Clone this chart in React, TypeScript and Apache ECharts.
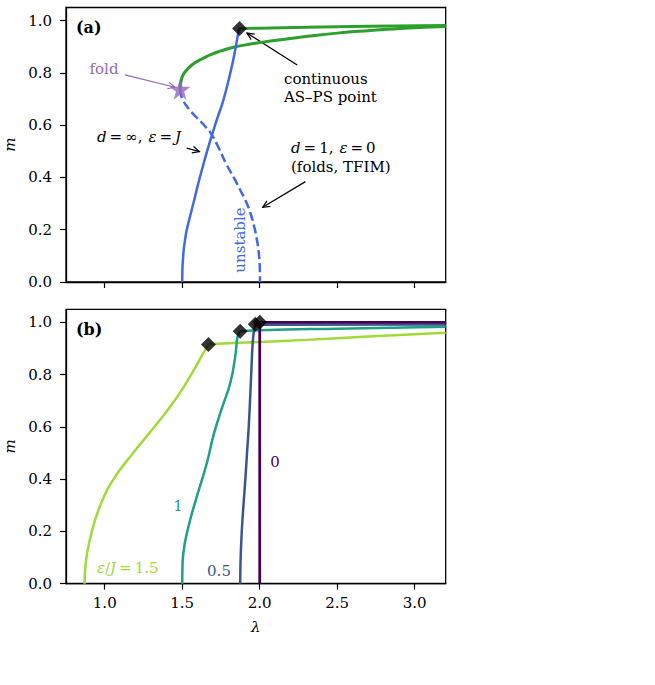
import { useEffect, useRef } from "react";
import * as echarts from "echarts";

const SERIF = "'DejaVu Serif', serif";

// Axis ticks shared by both panels
const LAMBDA_TICKS = [1.0, 1.5, 2.0, 2.5, 3.0];
const M_TICKS = [0.0, 0.2, 0.4, 0.6, 0.8, 1.0];
const LAMBDA_MIN = 0.75;
const LAMBDA_MAX = 3.2;
const M_MIN = 0;
const M_MAX = 1.05;

// ---- Panel (a): d = ∞, ε = J  versus  d = 1, ε = 0 ----
// stable branch rising from the fold
const stableFromFold: number[][] = [
  [1.486, 0.737], [1.488, 0.752], [1.492, 0.767], [1.497, 0.78], [1.51, 0.797],
  [1.529, 0.811], [1.56, 0.829], [1.594, 0.843], [1.64, 0.857], [1.68, 0.869],
  [1.75, 0.884], [1.831, 0.898], [1.95, 0.911], [2.069, 0.922], [2.284, 0.938],
  [2.5, 0.952], [2.716, 0.962], [2.932, 0.971], [3.2, 0.977],
];
// ordered branch leaving the continuous AS–PS point
const stableFromASPS: number[][] = [
  [1.87, 0.97], [2.0, 0.971], [2.3, 0.974], [2.7, 0.978], [3.2, 0.981],
];
// continuous curve (solid blue)
const continuousCurve: number[][] = [
  [1.5, 0.0], [1.5005, 0.03], [1.502, 0.06], [1.505, 0.09], [1.51, 0.125],
  [1.518, 0.16], [1.529, 0.199], [1.55, 0.25], [1.572, 0.301], [1.615, 0.403],
  [1.669, 0.518], [1.723, 0.62], [1.766, 0.697], [1.81, 0.799], [1.842, 0.888],
  [1.863, 0.958], [1.87, 0.97],
];
// unstable branch (dashed blue) from the fold down to λ = 2
const unstableBranch: number[][] = [
  [1.486, 0.737], [1.492, 0.715], [1.505, 0.695], [1.53, 0.672], [1.56, 0.65],
  [1.6, 0.625], [1.65, 0.594], [1.691, 0.563], [1.74, 0.507], [1.788, 0.447],
  [1.835, 0.397], [1.874, 0.352], [1.91, 0.31], [1.94, 0.263], [1.965, 0.21],
  [1.982, 0.161], [1.994, 0.11], [2.0, 0.06], [2.002, 0.0],
];
const foldPoint: number[][] = [[1.486, 0.737]];
const asPsPointA: number[][] = [[1.87, 0.97]];

// ---- Panel (b): family of curves for ε/J ----
const eps15Rise: number[][] = [
  [0.87, 0.0], [0.873, 0.05], [0.886, 0.116], [0.914, 0.193], [0.968, 0.295],
  [1.054, 0.397], [1.183, 0.5], [1.313, 0.595], [1.442, 0.693], [1.551, 0.793],
  [1.637, 0.883], [1.669, 0.915],
];
const eps15Flat: number[][] = [
  [1.669, 0.915], [1.8, 0.92], [2.0, 0.925], [2.3, 0.933], [2.7, 0.946], [3.2, 0.96],
];
const eps10Rise: number[][] = [
  [1.5, 0.0], [1.501, 0.05], [1.507, 0.116], [1.54, 0.218], [1.594, 0.333],
  [1.658, 0.46], [1.705, 0.575], [1.755, 0.67], [1.81, 0.768], [1.842, 0.87],
  [1.857, 0.945], [1.874, 0.966],
];
const eps10Flat: number[][] = [
  [1.874, 0.966], [2.0, 0.97], [2.5, 0.976], [3.2, 0.983],
];
const eps05Rise: number[][] = [
  [1.874, 0.0], [1.875, 0.05], [1.877, 0.1], [1.881, 0.16], [1.886, 0.22],
  [1.895, 0.3], [1.907, 0.397], [1.918, 0.5], [1.928, 0.589], [1.939, 0.72],
  [1.947, 0.83], [1.954, 0.915], [1.962, 0.965], [1.971, 0.993],
];
const eps05Flat: number[][] = [[1.971, 0.991], [3.2, 0.992]];
const eps00: number[][] = [[2.0, 0.0], [2.0, 1.0], [3.2, 1.0]];
const asPsPointsB: number[][] = [
  [1.669, 0.915], [1.874, 0.966], [1.971, 0.993], [2.0, 1.0],
];

// Annotation arrows in panel (a), [from, to] in (λ, m)
const foldArrow: number[][] = [[1.13, 0.792], [1.453, 0.745]];
const asPsArrow: number[][] = [[2.242, 0.83], [1.918, 0.952]];
const dInfArrow: number[][] = [[1.529, 0.512], [1.611, 0.499]];
const dOneArrow: number[][] = [[2.295, 0.384], [2.019, 0.286]];

const C_GREEN = "#2ca02c";
const C_BLUE = "#4169e1";
const C_PURPLE = "#9467bd";
const C_EPS15 = "#a0da39";
const C_EPS10 = "#21a085";
const C_EPS05 = "#39568c";
const C_EPS00 = "#440154";

const STAR =
  "path://M50,0 L61.8,35.4 L99,35.4 L69,57.3 L80.3,92.7 L50,70.8 L19.7,92.7 L31,57.3 L1,35.4 L38.2,35.4 Z";

function curve(
  data: number[][],
  color: string,
  grid: number,
  width = 2.5,
  smooth: number | boolean = 0.5,
  dashed = false
) {
  return {
    type: "line",
    xAxisIndex: grid,
    yAxisIndex: grid,
    data,
    showSymbol: false,
    smooth,
    silent: true,
    lineStyle: { color, width, type: dashed ? [9, 4] : "solid", cap: "butt" },
    z: 2,
  };
}

function makeXAxis(gridIndex: number, labels: boolean) {
  return {
    type: "value",
    gridIndex,
    min: LAMBDA_MIN,
    max: LAMBDA_MAX,
    splitLine: { show: false },
    axisLine: { show: true, onZero: false, lineStyle: { color: "#000", width: 1.3 } },
    axisTick: {
      show: true,
      length: 6,
      lineStyle: { color: "#000", width: 1.2 },
      customValues: LAMBDA_TICKS,
    },
    axisLabel: {
      show: labels,
      customValues: LAMBDA_TICKS,
      formatter: (v: number) => v.toFixed(1),
      fontFamily: SERIF,
      fontSize: 15,
      color: "#000",
      margin: 12,
    },
    name: labels ? "λ" : "",
    nameLocation: "middle",
    nameGap: 36,
    nameTextStyle: { fontFamily: SERIF, fontStyle: "italic", fontSize: 15, color: "#000" },
  };
}

function makeYAxis(gridIndex: number) {
  return {
    type: "value",
    gridIndex,
    min: M_MIN,
    max: M_MAX,
    splitLine: { show: false },
    axisLine: { show: true, onZero: false, lineStyle: { color: "#000", width: 1.3 } },
    axisTick: {
      show: true,
      length: 6,
      lineStyle: { color: "#000", width: 1.2 },
      customValues: M_TICKS,
    },
    axisLabel: {
      customValues: M_TICKS,
      formatter: (v: number) => v.toFixed(1),
      fontFamily: SERIF,
      fontSize: 15,
      color: "#000",
      margin: 14,
    },
    name: "m",
    nameLocation: "middle",
    nameGap: 47,
    nameTextStyle: { fontFamily: SERIF, fontStyle: "italic", fontSize: 15, color: "#000" },
  };
}

function label(x: number, y: number, text: string, fill = "#000", extra: any = {}, rotation = 0) {
  return {
    type: "text",
    x,
    y,
    rotation,
    silent: true,
    z: 10,
    style: {
      text,
      fill,
      fontFamily: SERIF,
      fontSize: 15,
      align: "left",
      verticalAlign: "middle",
      ...extra,
    },
  };
}

const mathRich = {
  i: { fontFamily: SERIF, fontStyle: "italic", fontSize: 15 },
};

// straight arrow with an open "->" head, endpoints given in pixels
function arrowGraphic(p0: number[], p1: number[], color: string) {
  const dx = p1[0] - p0[0];
  const dy = p1[1] - p0[1];
  const len = Math.hypot(dx, dy) || 1;
  const ux = dx / len;
  const uy = dy / len;
  const head = 7;
  const half = 3.3;
  const bx = p1[0] - ux * head;
  const by = p1[1] - uy * head;
  return {
    type: "group",
    silent: true,
    z: 9,
    children: [
      {
        type: "line",
        shape: { x1: p0[0], y1: p0[1], x2: p1[0], y2: p1[1] },
        style: { stroke: color, lineWidth: 1.2 },
      },
      {
        type: "polyline",
        shape: {
          points: [
            [bx - uy * half, by + ux * half],
            [p1[0], p1[1]],
            [bx + uy * half, by - ux * half],
          ],
        },
        style: { stroke: color, lineWidth: 1.2, fill: null },
      },
    ],
  };
}

export default function App() {
  const ref = useRef<HTMLDivElement>(null);

  useEffect(() => {
    if (!ref.current) return;
    const chart = echarts.init(ref.current, undefined, { renderer: "svg" });

    const gridBase = {
      left: 66,
      width: 379.7,
      show: true,
      borderColor: "#000",
      borderWidth: 1.3,
      backgroundColor: "transparent",
      containLabel: false,
      outerBoundsMode: "none",
    };

    const option: any = {
      animation: false,
      backgroundColor: "#fff",
      grid: [
        { ...gridBase, top: 7.5, height: 274.5 },
        { ...gridBase, top: 309.3, height: 274.4 },
      ],
      xAxis: [makeXAxis(0, false), makeXAxis(1, true)],
      yAxis: [makeYAxis(0), makeYAxis(1)],
      series: [
        // panel (a)
        curve(stableFromFold, C_GREEN, 0, 3),
        curve(stableFromASPS, C_GREEN, 0, 3),
        curve(unstableBranch, C_BLUE, 0, 2.5, 0.5, true),
        curve(continuousCurve, C_BLUE, 0, 2.5),
        {
          type: "scatter",
          xAxisIndex: 0,
          yAxisIndex: 0,
          data: foldPoint,
          symbol: STAR,
          symbolSize: 21,
          itemStyle: { color: C_PURPLE },
          silent: true,
          z: 5,
        },
        {
          type: "scatter",
          xAxisIndex: 0,
          yAxisIndex: 0,
          data: asPsPointA,
          symbol: "diamond",
          symbolSize: 15,
          itemStyle: { color: "#000" },
          silent: true,
          z: 5,
        },
        // panel (b)
        curve(eps15Rise, C_EPS15, 1, 2.5),
        curve(eps15Flat, C_EPS15, 1, 2.5),
        curve(eps10Rise, C_EPS10, 1, 2.5),
        curve(eps10Flat, C_EPS10, 1, 2.5),
        curve(eps05Rise, C_EPS05, 1, 2.5),
        curve(eps05Flat, C_EPS05, 1, 2.5),
        curve(eps00, C_EPS00, 1, 2.8, false),
        {
          type: "scatter",
          xAxisIndex: 1,
          yAxisIndex: 1,
          data: asPsPointsB,
          symbol: "diamond",
          symbolSize: 15,
          itemStyle: { color: "#000" },
          silent: true,
          z: 5,
        },
      ],
    };
    chart.setOption(option);

    // arrows are placed in data coordinates of panel (a)
    const px = (p: number[]) => chart.convertToPixel({ gridIndex: 0 }, p) as number[];
    const arrows = [
      arrowGraphic(px(foldArrow[0]), px(foldArrow[1]), C_PURPLE),
      arrowGraphic(px(asPsArrow[0]), px(asPsArrow[1]), "#000"),
      arrowGraphic(px(dInfArrow[0]), px(dInfArrow[1]), "#000"),
      arrowGraphic(px(dOneArrow[0]), px(dOneArrow[1]), "#000"),
    ];

    const T = "\u2009";
    const texts = [
      label(76, 27, "(a)", "#000", { fontWeight: "bold", fontSize: 16 }),
      label(104, 69, "fold", C_PURPLE, { align: "center" }),
      label(284, 79, "continuous"),
      label(284, 97, "AS–PS point"),
      label(97, 137, `{i|d}${T}=${T}∞,${T}${T}{i|ε}${T}=${T}{i|J}`, "#000", { rich: mathRich }),
      label(291, 148, `{i|d}${T}=${T}1,${T}${T}{i|ε}${T}=${T}0`, "#000", { rich: mathRich }),
      label(291, 167, "(folds, TFIM)"),
      label(240, 240, "unstable", C_BLUE, { align: "center" }, Math.PI / 2),
      label(76, 329, "(b)", "#000", { fontWeight: "bold", fontSize: 16 }),
      label(275, 462, "0", C_EPS00, { align: "center" }),
      label(178, 506, "1", C_EPS10, { align: "center" }),
      label(219, 571, "0.5", C_EPS05, { align: "center" }),
      label(97, 568, `{i|ε}/{i|J}${T}=${T}1.5`, C_EPS15, { rich: mathRich }),
    ];

    chart.setOption({ graphic: [...texts, ...arrows] });
    return () => chart.dispose();
  }, []);

  return (
    <div
      ref={ref}
      style={{ position: "fixed", left: 0, top: 0, width: 655, height: 685 }}
    />
  );
}
